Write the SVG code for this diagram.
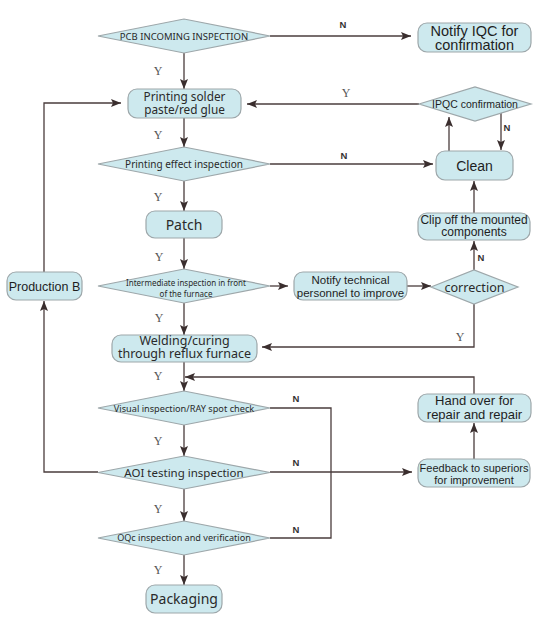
<svg xmlns="http://www.w3.org/2000/svg" width="552" height="625" viewBox="0 0 552 625">
<style>
.bg{fill:#ffffff}
.n rect,.n polygon{fill:#cde9ee;stroke:#9da7aa;stroke-width:1.2}
.h{font-family:"Noto Sans","Open Sans","DejaVu Sans",sans-serif;fill:#2a2a2a;text-anchor:middle}
.a{font-family:"Liberation Sans",Arial,sans-serif;fill:#1e1e1e;text-anchor:middle}
.c path{fill:none;stroke:#4a3c3c;stroke-width:1.3}
.y{font-family:"Liberation Serif","Times New Roman",serif;font-size:12px;fill:#555;text-anchor:middle}
.nl{font-family:"Liberation Sans",Arial,sans-serif;font-size:9.5px;font-weight:bold;fill:#333;text-anchor:middle}
</style>
<defs>
<marker id="ar" markerUnits="userSpaceOnUse" markerWidth="10" markerHeight="8" refX="10" refY="4" orient="auto">
<path d="M0,0 L10,4 L0,8 L2,4 z" fill="#3a2e2e"/>
</marker>
</defs>
<rect class="bg" x="0" y="0" width="552" height="625"/>

<g class="c" id="connectors">
<path d="M184,53 V89" marker-end="url(#ar)"/>
<path d="M270,36 H411" marker-end="url(#ar)"/>
<path d="M184,118 V147" marker-end="url(#ar)"/>
<path d="M270,164 H433" marker-end="url(#ar)"/>
<path d="M184,181 V211" marker-end="url(#ar)"/>
<path d="M184,238 V269" marker-end="url(#ar)"/>
<path d="M270,286 H288" marker-end="url(#ar)"/>
<path d="M407,286 H431" marker-end="url(#ar)"/>
<path d="M184,303 V335" marker-end="url(#ar)"/>
<path d="M474,304 V347 H262" marker-end="url(#ar)"/>
<path d="M474,270 V241" marker-end="url(#ar)"/>
<path d="M474,213 V181" marker-end="url(#ar)"/>
<path d="M449,151 V117" marker-end="url(#ar)"/>
<path d="M501,113 V150" marker-end="url(#ar)"/>
<path d="M419,104 H247" marker-end="url(#ar)"/>
<path d="M184,362 V391" marker-end="url(#ar)"/>
<path d="M474,394 V377 H185" marker-end="url(#ar)"/>
<path d="M270,408 H331 V538 H270"/>
<path d="M184,425 V456" marker-end="url(#ar)"/>
<path d="M270,472 H412" marker-end="url(#ar)"/>
<path d="M474,459 V423" marker-end="url(#ar)"/>
<path d="M98,472 H44 V301" marker-end="url(#ar)"/>
<path d="M44,272 V103 H121" marker-end="url(#ar)"/>
<path d="M184,489 V521" marker-end="url(#ar)"/>
<path d="M184,555 V585" marker-end="url(#ar)"/>
</g>

<g id="pcb" class="n"><polygon points="98,36 184,19 270,36 184,53"/><text class="h" x="184" y="39.5" font-size="9.5">PCB INCOMING INSPECTION</text></g>
<g id="notify-iqc" class="n"><rect x="418" y="23" width="113" height="29" rx="9"/><text class="a" x="474.5" y="35.5" font-size="14.5">Notify IQC for</text><text class="a" x="474.5" y="49.5" font-size="14.5">confirmation</text></g>
<g id="printing" class="n"><rect x="128" y="89" width="113" height="29" rx="9"/><text class="h" x="184.5" y="100.5" font-size="11.8">Printing solder</text><text class="h" x="184.5" y="113.5" font-size="11.8">paste/red glue</text></g>
<g id="ipqc" class="n"><polygon points="419,104 475,87 531,104 475,121"/><text class="a" x="475" y="108" font-size="10.5">IPQC confirmation</text></g>
<g id="printing-effect" class="n"><polygon points="98,164 184,147 270,164 184,181"/><text class="h" x="184" y="167.5" font-size="10">Printing effect inspection</text></g>
<g id="clean" class="n"><rect x="436" y="151" width="77" height="29" rx="9"/><text class="a" x="474.5" y="170.5" font-size="14">Clean</text></g>
<g id="patch" class="n"><rect x="146" y="211" width="76" height="27" rx="9"/><text class="h" x="184" y="230" font-size="14">Patch</text></g>
<g id="clip" class="n"><rect x="418" y="213" width="112" height="27" rx="9"/><text class="a" x="474" y="224" font-size="12">Clip off the mounted</text><text class="a" x="474" y="236" font-size="12">components</text></g>
<g id="production-b" class="n"><rect x="7" y="272" width="75" height="28" rx="9"/><text class="a" x="44.5" y="290.5" font-size="12.5">Production B</text></g>
<g id="intermediate" class="n"><polygon points="98,286 184,269 270,286 184,303"/><text class="h" x="186" y="286" font-size="8">Intermediate inspection in front</text><text class="h" x="186" y="296.5" font-size="8">of the furnace</text></g>
<g id="notify-tech" class="n"><rect x="294" y="272" width="113" height="28" rx="9"/><text class="a" x="350.5" y="284" font-size="11.5">Notify technical</text><text class="a" x="350.5" y="297" font-size="11.5">personnel to improve</text></g>
<g id="correction" class="n"><polygon points="431,287 474,270 518,287 474,304"/><text class="h" x="474.5" y="291.5" font-size="12.6">correction</text></g>
<g id="welding" class="n"><rect x="112" y="335" width="145" height="27" rx="9"/><text class="h" x="184.5" y="344.5" font-size="12.5">Welding/curing</text><text class="h" x="184.5" y="357.5" font-size="12.5">through reflux furnace</text></g>
<g id="visual" class="n"><polygon points="98,408 184,391 270,408 184,425"/><text class="h" x="184" y="411.5" font-size="9.2">Visual inspection/RAY spot check</text></g>
<g id="hand-over" class="n"><rect x="418" y="394" width="113" height="28" rx="9"/><text class="a" x="474.5" y="405" font-size="13">Hand over for</text><text class="a" x="474.5" y="418.5" font-size="13">repair and repair</text></g>
<g id="aoi" class="n"><polygon points="98,472.5 184,456 270,472.5 184,489"/><text class="h" x="184" y="476.5" font-size="11.5">AOI testing inspection</text></g>
<g id="feedback" class="n"><rect x="418" y="459" width="112" height="28" rx="9"/><text class="a" x="474" y="471.5" font-size="11">Feedback to superiors</text><text class="a" x="474" y="483.5" font-size="11">for improvement</text></g>
<g id="oqc" class="n"><polygon points="98,538 184,521 270,538 184,555"/><text class="h" x="184" y="541" font-size="9.1">OQc inspection and verification</text></g>
<g id="packaging" class="n"><rect x="146" y="585" width="76" height="28" rx="9"/><text class="h" x="184" y="604" font-size="14">Packaging</text></g>

<g id="labels">
<text class="y" x="158" y="75">Y</text>
<text class="y" x="158" y="139">Y</text>
<text class="y" x="158" y="201">Y</text>
<text class="y" x="159" y="261">Y</text>
<text class="y" x="159" y="322">Y</text>
<text class="y" x="158" y="380">Y</text>
<text class="y" x="158" y="445">Y</text>
<text class="y" x="158" y="513">Y</text>
<text class="y" x="158" y="574">Y</text>
<text class="y" x="346" y="97">Y</text>
<text class="y" x="460" y="341">Y</text>
<text class="nl" x="343" y="27.5">N</text>
<text class="nl" x="344" y="158.5">N</text>
<text class="nl" x="507" y="130.5">N</text>
<text class="nl" x="481" y="260.5">N</text>
<text class="nl" x="296" y="401.5">N</text>
<text class="nl" x="296" y="465.5">N</text>
<text class="nl" x="296" y="532.5">N</text>
</g>
</svg>
